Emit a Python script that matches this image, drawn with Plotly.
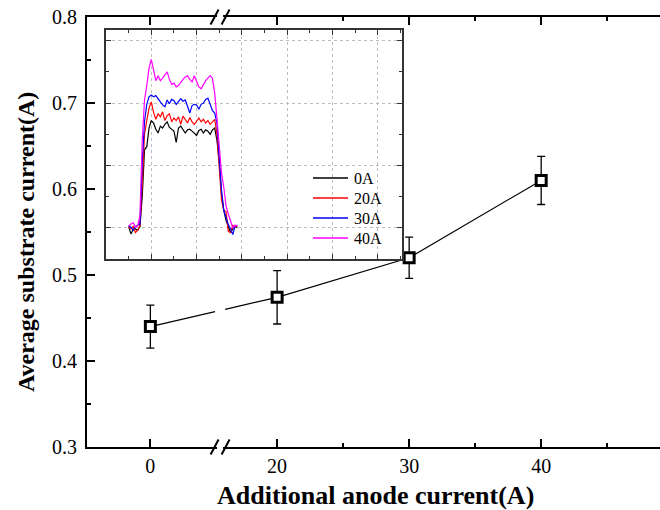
import numpy as np
import plotly.graph_objects as go

# ---- main data: average substrate current vs additional anode current ----
anode_current = [0, 20, 30, 40]
substrate_current = [0.440, 0.474, 0.520, 0.610]
substrate_err = [0.025, 0.031, 0.024, 0.028]
tick_text = ["0", "20", "30", "40"]

# broken x axis: the 0 A point is drawn at 10.4 on the plotting scale
BREAK_OFFSET = 10.4
BREAK_POS = 15.68
BREAK_HALF_GAP = 0.38

# ---- inset data: substrate current traces for each anode current ----
scan_x = [10, 11, 12, 13, 14, 15, 16, 17, 18, 19, 20, 21, 22, 23, 24, 25, 26,
          27, 28, 29, 30, 31, 32, 33, 34, 35, 36, 37, 38, 39, 40, 41, 42, 43,
          44, 45, 46, 47, 48, 49, 50, 51, 52, 53, 54, 55, 56, 57, 58]
trace_0A = [0.002, -0.010, -0.003, -0.002, -0.004, 0.002, 0.050, 0.125, 0.130,
            0.160, 0.172, 0.168, 0.158, 0.152, 0.163, 0.160, 0.166, 0.170,
            0.161, 0.158, 0.155, 0.137, 0.160, 0.163, 0.158, 0.152, 0.157,
            0.158, 0.155, 0.152, 0.148, 0.156, 0.158, 0.152, 0.157, 0.155,
            0.150, 0.157, 0.160, 0.140, 0.105, 0.055, 0.028, 0.012, 0.002,
            -0.008, -0.002, 0.002, 0.000]
trace_20A = [0.001, -0.002, 0.002, -0.008, -0.004, 0.003, 0.070, 0.150, 0.172,
             0.192, 0.202, 0.185, 0.174, 0.183, 0.178, 0.186, 0.172, 0.180,
             0.183, 0.170, 0.176, 0.172, 0.178, 0.166, 0.179, 0.174, 0.168,
             0.177, 0.170, 0.166, 0.172, 0.176, 0.170, 0.174, 0.168, 0.172,
             0.166, 0.170, 0.174, 0.150, 0.095, 0.045, 0.028, 0.026, -0.006,
             -0.008, 0.004, 0.001, 0.003]
trace_30A = [0.003, 0.001, -0.004, 0.002, 0.004, 0.006, 0.105, 0.170, 0.198,
             0.210, 0.213, 0.210, 0.212, 0.206, 0.202, 0.197, 0.194, 0.205,
             0.199, 0.206, 0.204, 0.198, 0.202, 0.207, 0.203, 0.205, 0.195,
             0.184, 0.196, 0.198, 0.197, 0.190, 0.198, 0.200, 0.206, 0.208,
             0.198, 0.188, 0.184, 0.168, 0.112, 0.060, 0.028, 0.015, 0.005,
             -0.002, -0.011, 0.003, 0.004]
trace_40A = [0.002, 0.006, 0.008, 0.001, 0.003, 0.020, 0.140, 0.205, 0.228,
             0.256, 0.270, 0.250, 0.236, 0.244, 0.236, 0.240, 0.246, 0.250,
             0.238, 0.230, 0.232, 0.226, 0.228, 0.234, 0.238, 0.242, 0.244,
             0.238, 0.234, 0.244, 0.236, 0.226, 0.223, 0.230, 0.236, 0.240,
             0.244, 0.240, 0.216, 0.175, 0.128, 0.088, 0.065, 0.035, 0.022,
             0.010, 0.000, 0.004, 0.003]
inset_names = ["0A", "20A", "30A", "40A"]
inset_colors = ["#000000", "#ff0000", "#0000ff", "#ff00ff"]

SERIF = "Liberation Serif, Times New Roman, serif"
W, H = 660, 510
M_L, M_R, M_T, M_B = 87, 0, 17, 63


def px_x(px):
    """Canvas pixel column -> paper fraction."""
    return (px - M_L) / (W - M_L - M_R)


def px_y(py):
    """Canvas pixel row -> paper fraction."""
    return (H - M_B - py) / (H - M_T - M_B)


x_draw = [c + BREAK_OFFSET if c < 20 else c for c in anode_current]

# connecting line, interrupted where the axis is broken
gx0, gx1 = BREAK_POS - BREAK_HALF_GAP, BREAK_POS + BREAK_HALF_GAP
gy0, gy1 = np.interp([gx0, gx1], x_draw, substrate_current)
line_x = [x_draw[0], gx0, None, gx1] + x_draw[1:]
line_y = [substrate_current[0], gy0, None, gy1] + substrate_current[1:]

fig = go.Figure()
fig.add_trace(go.Scatter(x=line_x, y=line_y, mode="lines",
                         line=dict(color="black", width=1.2),
                         showlegend=False, hoverinfo="skip"))
fig.add_trace(go.Scatter(
    x=x_draw, y=substrate_current, mode="markers", showlegend=False,
    marker=dict(symbol="square", size=10, color="white",
                line=dict(color="black", width=3)),
    error_y=dict(type="data", array=substrate_err, color="black",
                 thickness=1.3, width=4)))

for ys, name, col in zip([trace_0A, trace_20A, trace_30A, trace_40A],
                         inset_names, inset_colors):
    fig.add_trace(go.Scatter(x=scan_x, y=ys, mode="lines", name=name,
                             line=dict(color=col, width=1.2),
                             xaxis="x2", yaxis="y2", showlegend=False))

axis_font = dict(family=SERIF, size=20, color="black")

fig.update_layout(
    width=W, height=H,
    margin=dict(l=M_L, r=M_R, t=M_T, b=M_B),
    paper_bgcolor="white", plot_bgcolor="white",
    font=dict(family=SERIF, color="black"),
    showlegend=False,
    xaxis=dict(
        domain=[0, 1], range=[5.6, 49.0],
        tickvals=x_draw, ticktext=tick_text,
        ticks="inside", ticklen=8, tickwidth=1.5, tickcolor="black",
        minor=dict(tickvals=[25, 35, 45], ticks="inside", ticklen=4,
                   tickwidth=1.5, tickcolor="black"),
        showline=True, linecolor="black", linewidth=2, mirror="ticks",
        showgrid=False, zeroline=False, tickfont=axis_font,
    ),
    yaxis=dict(
        domain=[0, 1], range=[0.3, 0.8], dtick=0.1, tickformat=".1f",
        ticks="inside", ticklen=8, tickwidth=1.5, tickcolor="black",
        minor=dict(dtick=0.05, ticks="inside", ticklen=4, tickwidth=1.5,
                   tickcolor="black"),
        showline=True, linecolor="black", linewidth=2, mirror=False,
        showgrid=False, zeroline=False, tickfont=axis_font,
        ticklabelstandoff=4,
    ),
    xaxis2=dict(
        domain=[px_x(106), px_x(402)], range=[0, 130.7], anchor="y2",
        dtick=20, tick0=0, showticklabels=False,
        ticks="inside", ticklen=5, tickwidth=1, tickcolor="#333",
        minor=dict(dtick=10, ticks="inside", ticklen=3, tickcolor="#333"),
        showline=True, linecolor="#333", linewidth=1.5, mirror="allticks",
        showgrid=True, gridcolor="#bdbdbd", griddash="dot", gridwidth=1,
        zeroline=False,
    ),
    yaxis2=dict(
        domain=[px_y(259), px_y(30)], range=[-0.0502, 0.3173], anchor="x2",
        dtick=0.1, tick0=0, showticklabels=False,
        ticks="inside", ticklen=5, tickwidth=1, tickcolor="#333",
        minor=dict(dtick=0.05, ticks="inside", ticklen=3, tickcolor="#333"),
        showline=True, linecolor="#333", linewidth=1.5, mirror="allticks",
        showgrid=True, gridcolor="#bdbdbd", griddash="dot", gridwidth=1,
        zeroline=False,
    ),
)

# axis titles
fig.add_annotation(text="<b>Additional anode current(A)</b>",
                   xref="paper", yref="paper", x=px_x(375), y=px_y(495),
                   xanchor="center", yanchor="middle", showarrow=False,
                   font=dict(family=SERIF, size=26, color="black"))
fig.add_annotation(text="<b>Average substrate current(A)</b>",
                   xref="paper", yref="paper", x=px_x(26), y=px_y(242),
                   xanchor="center", yanchor="middle", showarrow=False,
                   textangle=-90,
                   font=dict(family=SERIF, size=24, color="black"))

# inset key
for i, (name, col) in enumerate(zip(inset_names, inset_colors)):
    row_y = px_y(178 + 20 * i)
    fig.add_shape(type="line", xref="paper", yref="paper",
                  x0=px_x(313), x1=px_x(348), y0=row_y, y1=row_y,
                  line=dict(color=col, width=1.5))
    fig.add_annotation(text=name, xref="paper", yref="paper",
                       x=px_x(352), y=row_y, xanchor="left", yanchor="middle",
                       showarrow=False,
                       font=dict(family=SERIF, size=16, color="black"))

# axis-break marks on bottom and top axis lines
for y_anchor in (0, 1):
    fig.add_shape(type="rect", xref="x", yref="paper",
                  xsizemode="pixel", xanchor=BREAK_POS, x0=-3, x1=3,
                  ysizemode="pixel", yanchor=y_anchor, y0=-3, y1=3,
                  fillcolor="white", line=dict(width=0), layer="above")
    for dx in (-5.5, 5.5):
        fig.add_shape(type="line", xref="x", yref="paper",
                      xsizemode="pixel", xanchor=BREAK_POS,
                      x0=dx - 4, x1=dx + 4,
                      ysizemode="pixel", yanchor=y_anchor, y0=-7.5, y1=7.5,
                      line=dict(color="black", width=2), layer="above")

fig.write_html("out.html")
